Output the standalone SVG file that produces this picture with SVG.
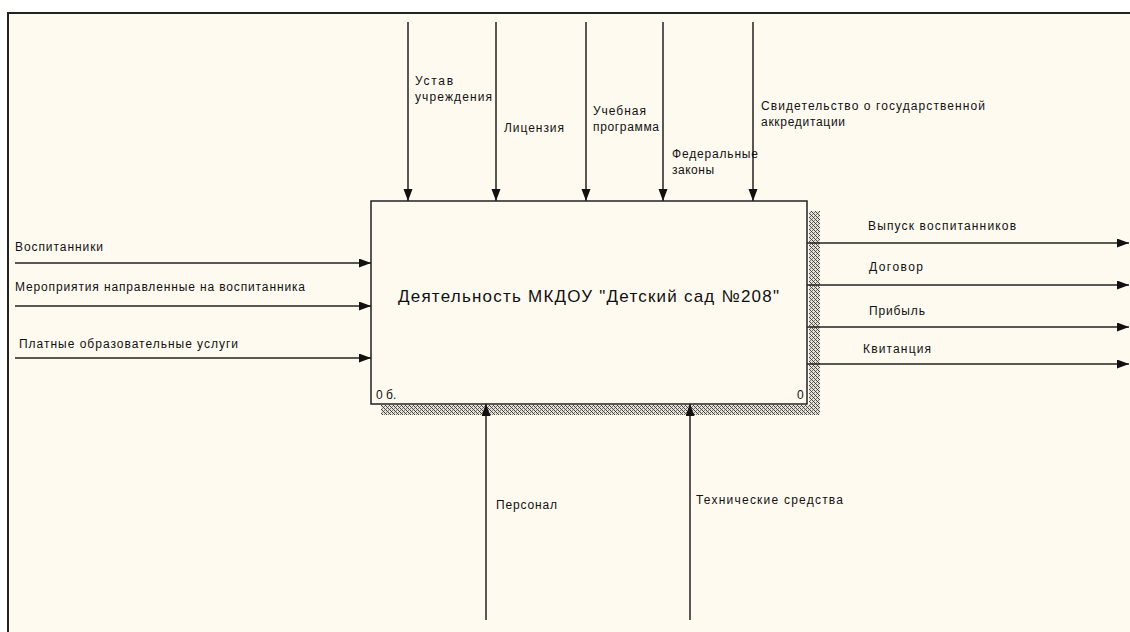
<svg xmlns="http://www.w3.org/2000/svg" width="1130" height="632" viewBox="0 0 1130 632">
<defs>
<style>
.lbl{font-family:"Liberation Sans",Arial,sans-serif;font-size:12px;fill:#111}
.title{font-family:"Liberation Sans",Arial,sans-serif;font-size:17px;fill:#111}
.arr{stroke:#222;stroke-width:1.5;fill:none;marker-end:url(#ah)}
</style>
<marker id="ah" markerUnits="userSpaceOnUse" markerWidth="13" markerHeight="10" refX="12" refY="4.5" orient="auto">
<path d="M0,0 L12,4.5 L0,9 Z" fill="#111"/>
</marker>
<pattern id="hatch" width="4" height="4" patternUnits="userSpaceOnUse">
<rect width="4" height="4" fill="#e6e2d8"/>
<rect x="0" y="0" width="1" height="1" fill="#444"/>
<rect x="1" y="1" width="1" height="1" fill="#444"/>
<rect x="2" y="2" width="1" height="1" fill="#444"/>
<rect x="3" y="3" width="1" height="1" fill="#444"/>
<rect x="2" y="0" width="1" height="1" fill="#777"/>
<rect x="0" y="2" width="1" height="1" fill="#777"/>
</pattern>
</defs>
<rect width="1130" height="632" fill="#ffffff"/>
<rect x="8" y="13" width="1130" height="630" fill="#fffaf0"/>
<path d="M8,640 V13 H1140" fill="none" stroke="#222" stroke-width="2"/>

<g id="node-main">
<rect x="809" y="211" width="11" height="204" fill="url(#hatch)"/>
<rect x="381" y="405" width="439" height="10" fill="url(#hatch)"/>
<rect x="371" y="201" width="436" height="203" fill="#fffaf0" stroke="#222" stroke-width="1.5"/>
<text class="title" x="398" y="302" textLength="381" lengthAdjust="spacing">Деятельность МКДОУ "Детский сад №208"</text>
<text class="lbl" x="376" y="399">0 б.</text>
<text class="lbl" x="797" y="399">0</text>
</g>

<g id="connectors">
<line class="arr" x1="408" y1="22" x2="408" y2="201"/>
<line class="arr" x1="496" y1="22" x2="496" y2="201"/>
<line class="arr" x1="586" y1="22" x2="586" y2="201"/>
<line class="arr" x1="663" y1="22" x2="663" y2="201"/>
<line class="arr" x1="753" y1="22" x2="753" y2="201"/>
<line class="arr" x1="15" y1="263" x2="371" y2="263"/>
<line class="arr" x1="15" y1="306" x2="371" y2="306"/>
<line class="arr" x1="15" y1="358" x2="371" y2="358"/>
<line class="arr" x1="807" y1="243" x2="1129" y2="243"/>
<line class="arr" x1="807" y1="285" x2="1129" y2="285"/>
<line class="arr" x1="807" y1="327" x2="1129" y2="327"/>
<line class="arr" x1="807" y1="364" x2="1129" y2="364"/>
<line class="arr" x1="486" y1="620" x2="486" y2="404"/>
<line class="arr" x1="690" y1="620" x2="690" y2="404"/>
</g>

<g id="labels">
<text class="lbl" x="415" y="85" textLength="38" lengthAdjust="spacing">Устав</text>
<text class="lbl" x="415" y="101" textLength="77" lengthAdjust="spacing">учреждения</text>
<text class="lbl" x="504" y="132" textLength="60" lengthAdjust="spacing">Лицензия</text>
<text class="lbl" x="593" y="115" textLength="53" lengthAdjust="spacing">Учебная</text>
<text class="lbl" x="593" y="131" textLength="66" lengthAdjust="spacing">программа</text>
<text class="lbl" x="672" y="158" textLength="86" lengthAdjust="spacing">Федеральные</text>
<text class="lbl" x="672" y="174" textLength="42" lengthAdjust="spacing">законы</text>
<text class="lbl" x="761" y="110" textLength="224" lengthAdjust="spacing">Свидетельство о государственной</text>
<text class="lbl" x="761" y="126" textLength="84" lengthAdjust="spacing">аккредитации</text>
<text class="lbl" x="15" y="251" textLength="88" lengthAdjust="spacing">Воспитанники</text>
<text class="lbl" x="15" y="291" textLength="290" lengthAdjust="spacing">Мероприятия направленные на воспитанника</text>
<text class="lbl" x="19" y="348" textLength="219" lengthAdjust="spacing">Платные образовательные услуги</text>
<text class="lbl" x="868" y="230" textLength="148" lengthAdjust="spacing">Выпуск воспитанников</text>
<text class="lbl" x="869" y="271" textLength="54" lengthAdjust="spacing">Договор</text>
<text class="lbl" x="869" y="315" textLength="56" lengthAdjust="spacing">Прибыль</text>
<text class="lbl" x="863" y="353" textLength="68" lengthAdjust="spacing">Квитанция</text>
<text class="lbl" x="496" y="509" textLength="61" lengthAdjust="spacing">Персонал</text>
<text class="lbl" x="696" y="504" textLength="147" lengthAdjust="spacing">Технические средства</text>
</g>
</svg>
